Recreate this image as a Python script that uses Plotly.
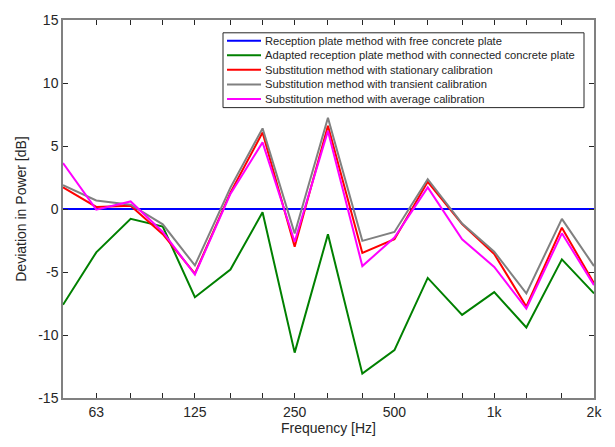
import math
import plotly.graph_objects as go

freqs = [50, 63, 80, 100, 125, 160, 200, 250, 315, 400, 500, 630, 800, 1000, 1250, 1600, 2000]
tick_labels = ["", "63", "", "", "125", "", "", "250", "", "", "500", "", "", "1k", "", "", "2k"]
y_ticks = [-15, -10, -5, 0, 5, 10, 15]

free_plate = [0.0] * 17
connected_plate = [-7.6, -3.44, -0.78, -1.4, -7.0, -4.8, -0.26, -11.4, -2.0, -13.07, -11.2, -5.47, -8.4, -6.6, -9.4, -4.0, -6.7]
stationary = [1.72, 0.16, 0.26, -2.0, -5.13, 1.3, 6.07, -3.0, 6.6, -3.49, -2.4, 2.16, -1.2, -3.57, -7.73, -1.48, -5.9]
transient = [1.9, 0.68, 0.34, -1.22, -4.48, 1.7, 6.4, -1.95, 7.24, -2.53, -1.82, 2.37, -1.15, -3.39, -6.7, -0.78, -4.53]
average = [3.65, -0.05, 0.6, -1.82, -5.2, 1.2, 5.29, -2.6, 6.2, -4.53, -2.27, 1.72, -2.4, -4.6, -7.9, -1.93, -6.04]

names = [
    "Reception plate method with free concrete plate",
    "Adapted reception plate method with connected concrete plate",
    "Substitution method with stationary calibration",
    "Substitution method with transient calibration",
    "Substitution method with average calibration",
]
values = [free_plate, connected_plate, stationary, transient, average]
colors = ["#0000ff", "#008000", "#ff0000", "#808080", "#ff00ff"]

W, H = 615, 447
ML, MR, MT, MB = 63, 21, 14, 49
PW, PH = W - ML - MR, H - MT - MB

def px_x(p):
    return (p - ML) / PW

def px_y(p):
    return (H - MB - p) / PH

fig = go.Figure()
for name, vals, color in zip(names, values, colors):
    fig.add_trace(go.Scatter(x=freqs, y=vals, mode="lines", name=name,
                             line=dict(color=color, width=2), showlegend=False))

# manual legend (compact like the reference)
shapes = [dict(type="rect", xref="paper", yref="paper",
               x0=px_x(223), x1=px_x(584), y0=px_y(103), y1=px_y(27),
               line=dict(color="#262626", width=1), fillcolor="white", layer="above")]
annotations = []
for i, (name, color) in enumerate(zip(names, colors)):
    yc = 35 + i * 14.8
    shapes.append(dict(type="line", xref="paper", yref="paper",
                       x0=px_x(227), x1=px_x(261), y0=px_y(yc), y1=px_y(yc),
                       line=dict(color=color, width=2), layer="above"))
    annotations.append(dict(xref="paper", yref="paper", x=px_x(263), y=px_y(yc),
                            xanchor="left", yanchor="middle", text=name, showarrow=False,
                            font=dict(size=11.2, color="#262626")))

fig.update_layout(
    width=W, height=H,
    margin=dict(l=ML, r=MR, t=MT, b=MB),
    paper_bgcolor="white", plot_bgcolor="white",
    font=dict(family="Liberation Sans, Arial, sans-serif", size=14, color="#262626"),
    showlegend=False,
    shapes=shapes, annotations=annotations,
    xaxis=dict(type="log", range=[math.log10(50), math.log10(2000)],
               tickvals=freqs, ticktext=tick_labels,
               ticks="inside", ticklen=5, tickcolor="#262626",
               showline=True, linecolor="#808080", linewidth=1.5, mirror="ticks",
               showgrid=False, zeroline=False,
               title=dict(text="Frequency [Hz]", font=dict(size=14), standoff=4)),
    yaxis=dict(range=[-15, 15], tickvals=y_ticks, ticktext=[str(v) for v in y_ticks],
               ticks="inside", ticklen=5, tickcolor="#262626",
               showline=True, linecolor="#808080", linewidth=1.5, mirror="ticks",
               showgrid=False, zeroline=False,
               title=dict(text="Deviation in Power [dB]", font=dict(size=14), standoff=8)),
)

fig.write_html("out.html")
